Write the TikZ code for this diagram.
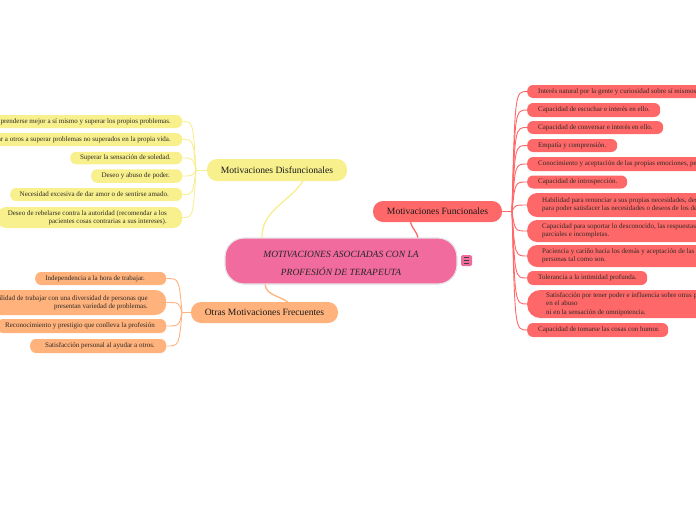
\documentclass[tikz,border=0pt]{standalone}
\usepackage{fontspec}
\setmainfont{Liberation Serif}
\usetikzlibrary{calc}
\definecolor{cpink}{HTML}{F26B9E}
\definecolor{cyel}{HTML}{F8F08D}
\definecolor{cyelln}{HTML}{F6EE90}
\definecolor{cpeach}{HTML}{FFB27C}
\definecolor{cred}{HTML}{FF6868}
\definecolor{ctxt}{HTML}{2E2A26}
\tikzset{
  boxst/.style={rectangle,inner sep=0pt,rounded corners=6pt},
  ybox/.style={boxst,fill=cyel},
  pbox/.style={boxst,fill=cpeach},
  rbox/.style={boxst,fill=cred},
  txt/.style={inner sep=0pt,text=ctxt,font=\fontsize{7}{8.3}\selectfont},
  parent/.style={rectangle,inner sep=0pt,rounded corners=10pt,text=black!90,font=\fontsize{9.6}{11}\selectfont},
  yline/.style={draw=cyelln,line width=0.9pt},
  pline/.style={draw=cpeach,line width=0.9pt},
  rline/.style={draw=cred,line width=0.9pt},
}
\newcommand\lbx[8]{%
  \node[#2,minimum width={(#4-#3)*1pt},minimum height={#6*1pt},anchor=west] (#1) at (#3,#5) {};
  \node[txt,anchor=east,align=right] (#1t) at (#7,#5) {#8};}
\newcommand\rbx[8]{%
  \node[#2,minimum width={(#4-#3)*1pt},minimum height={#6*1pt},anchor=west] (#1) at (#3,#5) {};
  \node[txt,anchor=west,align=left] (#1t) at (#7,#5) {#8};}
\begin{document}
\begin{tikzpicture}[x=1pt,y=-1pt]
\useasboundingbox (0,0) rectangle (696,520);
% central
\node[rectangle,rounded corners=19pt,fill=cpink,draw=black!10,line width=1.2pt,minimum width=232pt,minimum height=46pt,inner sep=0pt] (c) at (341,261) {};
\node[inner sep=0pt,align=center,font=\fontsize{9.5}{18}\selectfont\itshape,text=black!85] (ct) at (341,263) {MOTIVACIONES ASOCIADAS CON LA\\PROFESIÓN DE TERAPEUTA};
\node[rectangle,rounded corners=1.5pt,fill=cpink,minimum size=11pt,inner sep=0pt] (ic) at (466.5,260.5) {};
\foreach \dy in {-2.6,0,2.6}{\draw[black!75,line width=0.9pt] ($(ic.center)+(-2.8,\dy)$) -- ++(5.6,0);}
% parents
\node[parent,fill=cyel,minimum width=140pt,minimum height=22pt] (d) at (277,170) {Motivaciones Disfuncionales};
\node[parent,fill=cred,minimum width=129pt,minimum height=21pt] (f) at (437.5,211.5) {Motivaciones Funcionales};
\node[parent,fill=cpeach,minimum width=147pt,minimum height=21pt] (fr) at (264.5,312.5) {Otras Motivaciones Frecuentes};
\draw[draw=cyelln,line width=1.3pt] ([xshift=-79pt]c.north) to[out=90,in=235] ([xshift=26pt]d.south);
\draw[draw=cred,line width=1.3pt] ([xshift=77pt]c.north) to[out=105,in=-75] ([xshift=-27pt]f.south);
\draw[draw=cpeach,line width=1.3pt] ([xshift=-76pt]c.south) to[out=-80,in=145] ([xshift=23pt]fr.north);
% yellow children
\lbx{y1}{ybox}{-100}{182}{121.5}{13}{171}{Comprenderse mejor a sí mismo y superar los propios problemas.}
\lbx{y2}{ybox}{-100}{182}{139.5}{13}{171}{Ayudar a otros a superar problemas no superados en la propia vida.}
\lbx{y3}{ybox}{70}{182}{158}{12.5}{171}{Superar la sensación de soledad.}
\lbx{y4}{ybox}{91}{182}{176}{13.5}{170}{Deseo y abuso de poder.}
\lbx{y5}{ybox}{10}{182}{194.5}{13}{169}{Necesidad excesiva de dar amor o de sentirse amado.}
\lbx{y6}{ybox,rounded corners=9pt}{-3}{182}{217.5}{21}{167}{Deseo de rebelarse contra la autoridad (recomendar a los\\pacientes cosas contrarias a sus intereses).}
\coordinate (jy) at (196,170);
\draw[yline] (d.west) -- (jy);
\foreach \n in {y1,y2,y3,y4,y5,y6}{\draw[yline] (jy) .. controls ($(jy |- \n.east)+(-3,0)$) .. (\n.east);}
% peach children
\lbx{p1}{pbox}{35}{166}{278.5}{13}{145}{Independencia a la hora de trabajar.}
\lbx{p2}{pbox,rounded corners=11pt}{-100}{166}{302.5}{25}{148}{Posibilidad de trabajar con una diversidad de personas que\\presentan variedad de problemas.}
\lbx{p3}{pbox}{-3}{166}{326}{14}{155}{Reconocimiento y prestigio que conlleva la profesión}
\lbx{p4}{pbox}{30}{166}{346}{14}{155}{Satisfacción personal al ayudar a otros.}
\coordinate (jp) at (182,312.5);
\draw[pline] (fr.west) -- (jp);
\foreach \n in {p1,p2,p3,p4}{\draw[pline] (jp) .. controls ($(jp |- \n.east)+(-3,0)$) .. (\n.east);}
% red children
\rbx{r1}{rbox}{527}{800}{91.5}{13}{538}{Interés natural por la gente y curiosidad sobre sí mismos}
\rbx{r2}{rbox}{527}{660}{110}{14}{538}{Capacidad de escuchar e interés en ello.}
\rbx{r3}{rbox}{527}{663}{127.5}{13}{538}{Capacidad de conversar e interés en ello.}
\rbx{r4}{rbox}{527}{617}{145.5}{13}{538}{Empatía y comprensión.}
\rbx{r5}{rbox}{527}{800}{164}{14}{538}{Conocimiento y aceptación de las propias emociones, pensamientos}
\rbx{r6}{rbox}{527}{627}{182}{13}{538}{Capacidad de introspección.}
\rbx{r7}{rbox,rounded corners=10pt}{527}{800}{205}{24}{542}{Habilidad para renunciar a sus propias necesidades, deseos\\para poder satisfacer las necesidades o deseos de los demás.}
\rbx{r8}{rbox,rounded corners=10pt}{527}{800}{231}{22}{542}{Capacidad para soportar lo desconocido, las respuestas\\parciales e incompletas.}
\rbx{r9}{rbox,rounded corners=10pt}{527}{800}{256}{22}{542}{Paciencia y cariño hacia los demás y aceptación de las\\personas tal como son.}
\rbx{r10}{rbox}{527}{647}{278}{14}{538}{Tolerancia a la intimidad profunda.}
\rbx{r11}{rbox,rounded corners=13pt}{527}{800}{304}{28}{546}{Satisfacción por tener poder e influencia sobre otras personas\\en el abuso\\ni en la sensación de omnipotencia.}
\rbx{r12}{rbox}{527}{668}{330}{14}{538}{Capacidad de tomarse las cosas con humor.}
\coordinate (jr) at (512,211.5);
\draw[rline] (f.east) -- (jr);
\foreach \n in {r1,r2,r3,r4,r5,r6,r7,r8,r9,r10,r11,r12}{\draw[rline] (jr) .. controls ($(jr |- \n.west)+(3,0)$) .. (\n.west);}
\end{tikzpicture}
\end{document}
